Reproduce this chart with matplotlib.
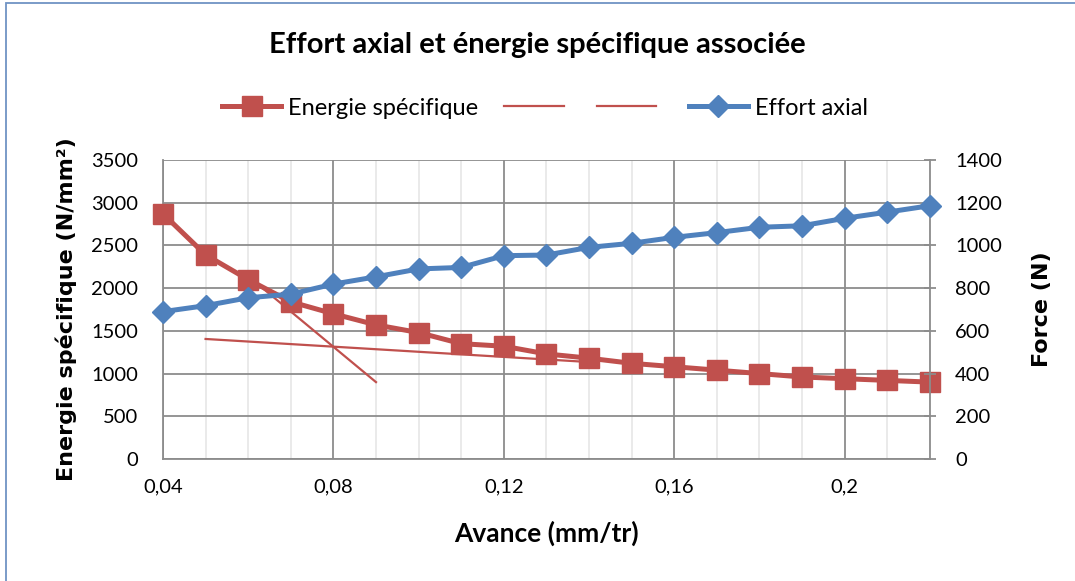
import matplotlib.pyplot as plt
from matplotlib.patches import Rectangle
from matplotlib.ticker import FixedLocator

# Données
avance = [0.04, 0.05, 0.06, 0.07, 0.08, 0.09, 0.10, 0.11, 0.12, 0.13,
          0.14, 0.15, 0.16, 0.17, 0.18, 0.19, 0.20, 0.21, 0.22]
energie = [2870, 2390, 2100, 1840, 1700, 1570, 1480, 1350, 1320, 1230,
           1180, 1120, 1080, 1040, 1000, 960, 940, 920, 900]
effort = [690, 718, 755, 772, 819, 853, 890, 897, 952, 955,
          991, 1010, 1038, 1060, 1085, 1092, 1127, 1156, 1186]

# Droites tracées à la main (tangentes)
tang1_x = [0.06, 0.09]
tang1_y = [2140, 900]
tang2_x = [0.05, 0.14]
tang2_y = [1405, 1135]

xticks = [0.04, 0.08, 0.12, 0.16, 0.2]
xticklabels = ['0,04', '0,08', '0,12', '0,16', '0,2']
legende = ['Energie spécifique', '', '', 'Effort axial']

rouge = '#C0504D'
bleu = '#4F81BD'
police = 'Lato'

fig = plt.figure(figsize=(10.75, 5.81), dpi=100)
ax = fig.add_axes([0.1516, 0.21, 0.865 - 0.1516, 0.7246 - 0.21])
ax2 = ax.twinx()

l1, = ax.plot(avance, energie, color=rouge, lw=3.6, marker='s', ms=14,
              zorder=3, clip_on=False)
l2, = ax.plot(tang1_x, tang1_y, color=rouge, lw=1.6, zorder=2)
l3, = ax.plot(tang2_x, tang2_y, color=rouge, lw=1.6, zorder=2)
l4, = ax2.plot(avance, effort, color=bleu, lw=3.6, marker='D', ms=11,
               zorder=3, clip_on=False)

ax.set_xlim(0.04, 0.22)
ax.set_ylim(0, 3500)
ax2.set_ylim(0, 1400)
ax.set_yticks(range(0, 3501, 500))
ax2.set_yticks(range(0, 1401, 200))
ax.set_xticks(xticks)
ax.set_xticklabels(xticklabels)
ax.xaxis.set_minor_locator(FixedLocator([0.04 + 0.01 * i for i in range(19)]))

ax.grid(True, which='major', color='#8c8c8c', lw=1.3)
ax.grid(True, which='minor', axis='x', color='#e8e8e8', lw=1.3)
ax.set_axisbelow(True)

for a in (ax, ax2):
    for s in a.spines.values():
        s.set_visible(False)
ax2.spines['right'].set_visible(True)
ax2.spines['right'].set_color('#8c8c8c')
ax2.spines['right'].set_linewidth(1.3)
ax.spines['left'].set_visible(True)
ax.spines['left'].set_color('#8c8c8c')
ax.spines['left'].set_linewidth(1.3)
ax.spines['bottom'].set_visible(True)
ax.spines['bottom'].set_color('#8c8c8c')
ax.spines['bottom'].set_linewidth(1.3)

ax.tick_params(axis='x', which='both', length=0, pad=14, labelsize=14.5)
ax.tick_params(axis='y', length=0, pad=18, labelsize=14.5)
ax2.tick_params(axis='y', direction='inout', length=8, color='#8c8c8c',
                width=1.3, pad=14, labelsize=14.5)
for lab in ax.get_xticklabels() + ax.get_yticklabels() + ax2.get_yticklabels():
    lab.set_fontfamily(police)

ax.set_xlabel('Avance (mm/tr)', fontsize=19, fontweight='bold',
              family=police, labelpad=18)
ax.set_ylabel('Energie spécifique (N/mm²)', fontsize=16, fontweight='bold',
              family='DejaVu Sans', labelpad=10)
ax2.set_ylabel('Force (N)', fontsize=16, fontweight='bold',
               family='DejaVu Sans', labelpad=22)

fig.text(0.5, 0.922, 'Effort axial et énergie spécifique associée',
         ha='center', va='center', fontsize=21, fontweight='bold', family=police)

fig.legend(handles=[l1, l2, l3, l4], labels=legende, loc='center',
           bbox_to_anchor=(0.507, 0.814), ncol=4, frameon=False,
           handlelength=2.5, columnspacing=1.1, handletextpad=0.3,
           prop={'family': police, 'size': 17})

fig.patches.append(Rectangle((0.006, -0.1), 1.2, 1.094, transform=fig.transFigure,
                             fill=False, edgecolor='#6f93c4', lw=1.3))

fig.savefig('out.png', dpi=100)
